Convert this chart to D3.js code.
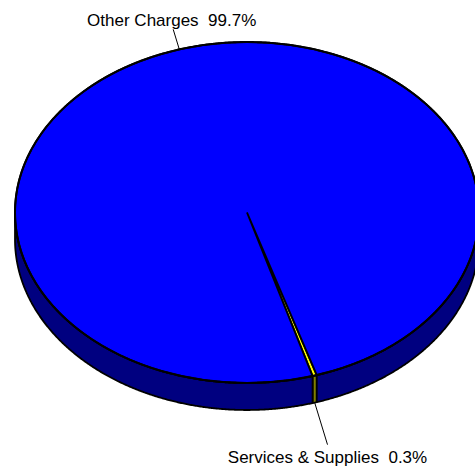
<!DOCTYPE html>
<html>
<head>
<meta charset="utf-8">
<script src="https://cdn.jsdelivr.net/npm/d3@7"></script>
<style>
  html, body { margin: 0; padding: 0; background: #fff; }
  svg { display: block; }
  text { font-family: "Liberation Sans", Arial, sans-serif; font-size: 17px; fill: #000; white-space: pre; }
</style>
</head>
<body>
<svg id="chart" width="475" height="474"></svg>
<script>
// Budget split by category
const categories = ["Services & Supplies", "Other Charges"];
const values = [0.3, 99.7];
const topColors = ["#ffff00", "#0000ff"];
const sideColors = ["#808000", "#000080"];

// Pie geometry (tilted disc)
const cx = 247, cy = 212.5, rx = 232, ry = 170.5, depth = 27;
const startAngle = 162.5 * Math.PI / 180;
const leaderLength = [44, 21];

const svg = d3.select("#chart");

const pie = d3.pie()
  .sort(null)
  .value(d => d.value)
  .startAngle(startAngle)
  .endAngle(startAngle + 2 * Math.PI);

const arcs = pie(categories.map((c, i) => ({ name: c, value: values[i], i })));

// Angle measured clockwise from 12 o'clock
const pt = (a, dy = 0) => [cx + rx * Math.sin(a), cy - ry * Math.cos(a) + dy];

function arcPoints(a0, a1, dy = 0) {
  const n = Math.max(2, Math.ceil(Math.abs(a1 - a0) / 0.005));
  return d3.range(n + 1).map(k => pt(a0 + (a1 - a0) * k / n, dy));
}

const line = d3.line();

// Front wall: only the part of each slice lying in the lower half is visible
const sides = [];
arcs.forEach(d => {
  for (let k = 0; k < 3; k++) {
    const lo = Math.PI / 2 + k * 2 * Math.PI, hi = 3 * Math.PI / 2 + k * 2 * Math.PI;
    const a = Math.max(d.startAngle, lo), b = Math.min(d.endAngle, hi);
    if (b > a) sides.push({ i: d.data.i, a, b });
  }
});

svg.append("g").selectAll("path")
  .data(sides)
  .join("path")
  .attr("d", s => line(arcPoints(s.a, s.b).concat(arcPoints(s.b, s.a, depth))) + "Z")
  .attr("fill", s => sideColors[s.i])
  .attr("stroke", "#000")
  .attr("stroke-width", 1.8)
  .attr("stroke-linejoin", "round");

// Top face
svg.append("g").selectAll("path")
  .data(arcs)
  .join("path")
  .attr("d", d => line([[cx, cy]].concat(arcPoints(d.startAngle, d.endAngle))) + "Z")
  .attr("fill", d => topColors[d.data.i])
  .attr("stroke", "#000")
  .attr("stroke-width", 1.9)
  .attr("stroke-linejoin", "miter");

// Rim outline
svg.append("ellipse")
  .attr("cx", cx).attr("cy", cy).attr("rx", rx).attr("ry", ry)
  .attr("fill", "none").attr("stroke", "#000").attr("stroke-width", 2);

// Labels with leader lines
const labels = svg.append("g");
arcs.forEach(d => {
  const mid = (d.startAngle + d.endAngle) / 2;
  const upper = Math.cos(mid) > 0;
  const p0 = pt(mid, upper ? 0 : depth);
  const L = leaderLength[d.data.i];
  const p1 = [p0[0] + L * Math.sin(mid), p0[1] - L * Math.cos(mid)];
  labels.append("line")
    .attr("x1", p0[0]).attr("y1", p0[1])
    .attr("x2", p1[0]).attr("y2", p1[1])
    .attr("stroke", "#000").attr("stroke-width", 1);
  const pct = d.value / d3.sum(values) * 100;
  labels.append("text")
    .attr("x", p1[0] - (upper ? 1.5 : 0))
    .attr("y", upper ? p1[1] - 3.5 : p1[1] + 18)
    .attr("text-anchor", "middle")
    .text(`${d.data.name}  ${pct.toFixed(1)}%`);
});
</script>
</body>
</html>
